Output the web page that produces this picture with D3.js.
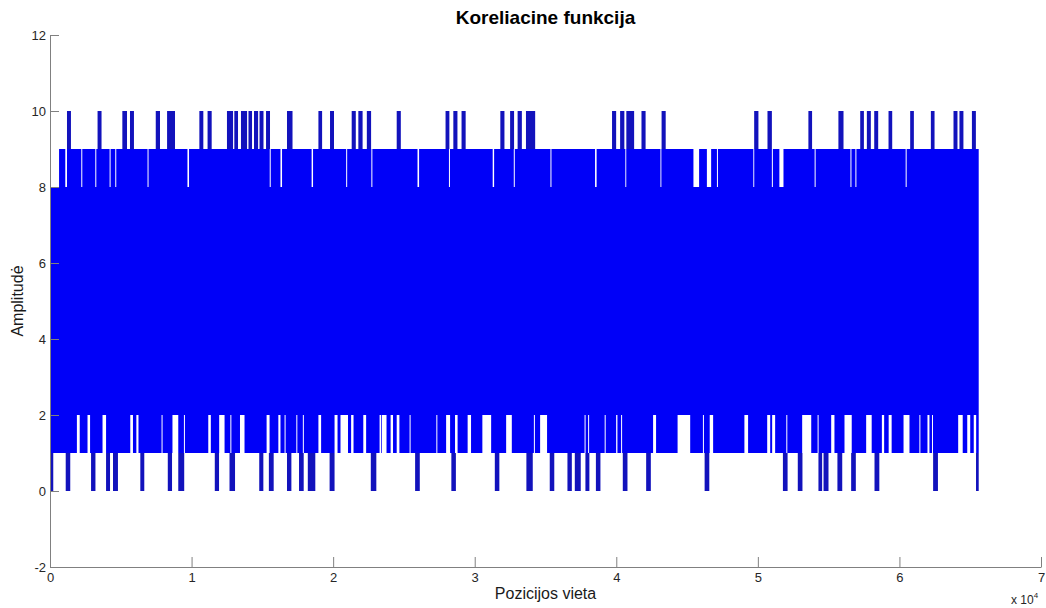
<!DOCTYPE html>
<html>
<head>
<meta charset="utf-8">
<script src="https://cdn.jsdelivr.net/npm/d3@7/dist/d3.min.js"></script>
<style>
  html, body { margin: 0; padding: 0; background: #fff; }
  svg { display: block; }
</style>
</head>
<body>
<svg id="chart" width="1046" height="608"></svg>
<script>
// ---- data (positions in samples, amplitudes in units) ----
const signalEnd = 65600;
const baseLow = 1, baseHigh = 9;          // dense band limits
const xTicks = [0, 10000, 20000, 30000, 40000, 50000, 60000, 70000];
const yTicks = [-2, 0, 2, 4, 6, 8, 10, 12];

// intervals where the correlation reaches 10
const peaks10 = [
  [1200,1480],[3360,3640],[5110,5440],[5650,5930],[7470,7770],[8270,8830],
  [10550,10830],[11130,11420],[12500,12930],[13020,13280],[13490,13920],[14020,14270],
  [14410,14700],[14800,15080],[15260,15540],[16740,17130],[18960,19220],[19780,20060],
  [21310,21600],[21780,22080],[22380,22680],[24490,24780],[27940,28210],[28490,28780],
  [29070,29360],[31810,32100],[32500,32780],[33030,33330],[33620,34270],[39700,39990],
  [40270,40570],[40710,41260],[41780,42070],[43200,43490],[49740,50040],[50680,50990],
  [53570,53830],[55690,56050],[57230,57490],[57700,57980],[58220,58500],[59230,59490],
  [60760,61020],[62220,62480],[63820,64100],[64240,64520],[65120,65400]
];
// intervals where the maximum only reaches 8
const gaps8 = [
  [0,640],[1080,1200],[2210,2280],[3200,3270],[4210,4280],[4610,4680],[6890,6960],
  [9710,9820],[15520,15590],[16280,16390],[18480,18580],[20920,20990],[22700,22770],
  [25960,26070],[28180,28250],[31270,31370],[32760,32830],[35350,35420],[38500,38610],
  [40640,40700],[43120,43180],[45450,45850],[46400,46700],[47110,47180],[49680,49740],
  [50990,51060],[51520,51810],[54010,54080],[56540,56610],[56890,56960],[60440,60510]
];
// intervals where the minimum stays at 2
const cuts2 = [
  [1900,2100],[2650,2830],[3710,3960],[5670,5860],[6100,6250],[7880,7950],[8650,9060],
  [9460,9530],[11180,11360],[11950,12330],[12740,12810],[13420,13740],[15300,15510],
  [16130,16280],[16570,16640],[17400,17470],[17860,17930],[18960,19150],[20100,20310],
  [20520,21050],[21270,21440],[22130,22330],[23280,23390],[23440,23770],[24060,24230],
  [24490,24680],[25400,25470],[27290,27360],[27980,28260],[28610,28790],[29500,29740],
  [30540,31160],[32220,32620],[34180,34250],[34620,35110],[37760,37830],[38010,38080],
  [39180,39250],[39990,40080],[40340,40410],[42600,42810],[44330,45220],[46120,46190],
  [46600,46840],[49050,49310],[50660,50870],[51010,51220],[52010,52080],[53130,53770],
  [54220,54290],[55180,55410],[56120,56630],[57650,58040],[58760,58920],[59240,59450],
  [60290,60710],[61410,61480],[61980,62120],[62300,62370],[64150,64470],[64790,65000],
  [65250,65420]
];
// intervals where the correlation drops to 0
const dips0 = [
  [0,230],[1110,1430],[2900,3210],[3960,4240],[4450,4800],[6380,6660],[8320,8620],
  [9060,9480],[11640,11940],[12680,13070],[14780,15070],[15460,15800],[16740,17050],
  [17590,17920],[18210,18740],[19750,20100],[22660,23050],[25790,26120],[28350,28670],
  [31420,31740],[33650,34100],[35300,35620],[36550,36860],[37070,37490],[37820,38100],
  [38560,38880],[40460,40790],[42110,42440],[46240,46570],[51770,52100],[52820,53150],
  [54280,54540],[54640,54990],[55620,55960],[56590,56920],[58240,58580],[62380,62720],
  [65410,65600]
];

// ---- layout ----
const svg = d3.select("#chart");
const x = d3.scaleLinear().domain([0, 70000]).range([50, 1041]);
const y = d3.scaleLinear().domain([-2, 12]).range([567, 35]);

const bright = "#0000f8", dark = "#1212bc";

const g = svg.append("g");
// dense band
g.append("rect")
  .attr("x", x(0)).attr("width", x(signalEnd) - x(0))
  .attr("y", y(baseHigh)).attr("height", y(baseLow) - y(baseHigh))
  .attr("fill", bright);

function bars(data, lo, hi, fill) {
  g.append("g").selectAll("rect").data(data).join("rect")
    .attr("x", d => x(d[0]))
    .attr("width", d => Math.max(0.9, x(d[1]) - x(d[0])))
    .attr("y", y(hi))
    .attr("height", y(lo) - y(hi))
    .attr("fill", fill);
}
bars(gaps8, 8, 9, "#ffffff");
bars(cuts2, 1, 2, "#ffffff");
bars(peaks10, 9, 10, dark);
bars(dips0, 0, 1, dark);

// ---- axes ----
const font = "'Liberation Sans', Arial, sans-serif";
const xAxis = d3.axisBottom(x).tickValues(xTicks).tickFormat(d => String(d / 10000))
  .tickSizeInner(-10).tickSizeOuter(0).tickPadding(6);
const yAxis = d3.axisLeft(y).tickValues(yTicks).tickFormat(d => String(d))
  .tickSizeInner(-9).tickSizeOuter(0).tickPadding(4);

const gx = svg.append("g").attr("transform", `translate(0,${y(-2)})`).call(xAxis);
const gy = svg.append("g").attr("transform", `translate(${x(0)},0)`).call(yAxis);
[gx, gy].forEach(a => {
  a.selectAll("path, line").attr("stroke", "#808080").attr("stroke-width", 1);
  a.selectAll("text").attr("fill", "#262626").style("font-family", font).style("font-size", "13px");
});

// exponent label
const ex = svg.append("text").attr("x", 1011).attr("y", 604)
  .style("font-family", font).style("font-size", "12px").attr("fill", "#262626");
ex.append("tspan").text("x 10");
ex.append("tspan").attr("dy", -6).style("font-size", "8px").text("4");

// title and labels
svg.append("text").attr("x", (x(0) + x(70000)) / 2).attr("y", 24)
  .attr("text-anchor", "middle").style("font-family", font)
  .style("font-size", "19px").style("font-weight", "bold").attr("fill", "#000")
  .text("Koreliacine funkcija");
svg.append("text").attr("x", (x(0) + x(70000)) / 2).attr("y", 599)
  .attr("text-anchor", "middle").style("font-family", font)
  .style("font-size", "16px").attr("fill", "#1a1a1a")
  .text("Pozicijos vieta");
svg.append("text").attr("transform", `translate(23,${(y(-2) + y(12)) / 2}) rotate(-90)`)
  .attr("text-anchor", "middle").style("font-family", font)
  .style("font-size", "16px").attr("fill", "#1a1a1a")
  .text("Amplitudė");
</script>
</body>
</html>
